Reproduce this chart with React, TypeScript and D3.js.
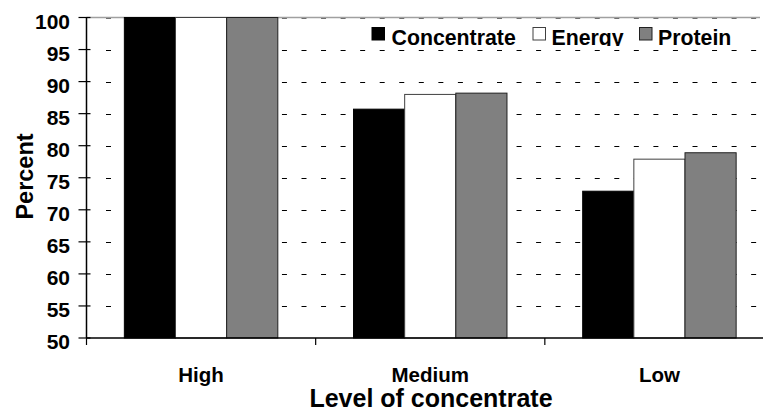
import React from "react";
import * as d3 from "d3";

const categories = ["High", "Medium", "Low"];
const seriesNames = ["Concentrate", "Energy", "Protein"];
const concentrate = [100, 85.7, 72.9];
const energy = [100, 88.0, 77.9];
const protein = [100, 88.2, 78.9];
const yTicks = [50, 55, 60, 65, 70, 75, 80, 85, 90, 95, 100];
const seriesValues = [concentrate, energy, protein];
const fills = ["#000000", "#ffffff", "#808080"];
const strokes = ["#000000", "#404040", "#202020"];

const W = 763;
const H = 412;
const FONT = "'Liberation Sans', Arial, sans-serif";

export default function App() {
  const left = 86.5;
  const right = 774;
  const top = 17.5;
  const bottom = 338;
  const x = d3.scaleBand<string>().domain(categories).range([left, right]).paddingInner(0).paddingOuter(0);
  const xi = d3.scaleBand<string>().domain(seriesNames).range([0, x.bandwidth()]).paddingInner(0).paddingOuter(0.74);
  const y = d3.scaleLinear().domain([50, 100]).range([bottom, top]);
  const gridEnd = 760;
  const period = 19.55;

  return (
    <svg width={W} height={H} style={{ position: "absolute", left: 0, top: 0, background: "#fff" }}>
      <defs>
        <clipPath id="legclip">
          <rect x={360} y={18} width={400} height={28} />
        </clipPath>
      </defs>
      <rect x={0} y={0} width={W} height={H} fill="#fff" />
      {/* top line */}
      <line x1={left} x2={gridEnd} y1={y(100)} y2={y(100)} stroke="#a0a0a0" strokeWidth={1.5} />
      {/* gridlines */}
      {yTicks.filter((t) => t > 50).map((t) => (
        <line
          key={"g" + t}
          x1={left + 19.5}
          x2={gridEnd}
          y1={Math.round(y(t)) + 0.5}
          y2={Math.round(y(t)) + 0.5}
          stroke={t === 100 ? "#707070" : "#000"}
          strokeWidth={1}
          strokeDasharray={`5 ${period - 5}`}
        />
      ))}
      {/* bars */}
      {categories.map((c, ci) =>
        seriesNames.map((s, si) => {
          const v = seriesValues[si][ci];
          const bx = (x(c) as number) + (xi(s) as number);
          return (
            <rect
              key={c + s}
              x={bx}
              y={y(v)}
              width={xi.bandwidth()}
              height={bottom - y(v)}
              fill={fills[si]}
              stroke={strokes[si]}
              strokeWidth={1}
            />
          );
        })
      )}
      {/* y axis */}
      <line x1={left} x2={left} y1={top} y2={bottom} stroke="#000" strokeWidth={1.5} />
      {yTicks.map((t) => (
        <g key={"t" + t}>
          <line x1={left - 8} x2={left + 4} y1={y(t)} y2={y(t)} stroke="#000" strokeWidth={1.2} />
          <text x={70} y={y(t) + 11} textAnchor="end" fontFamily={FONT} fontWeight="bold" fontSize={21} fill="#000">
            {t}
          </text>
        </g>
      ))}
      {/* x axis */}
      <line x1={left} x2={W} y1={bottom} y2={bottom} stroke="#000" strokeWidth={1.5} />
      {categories.map((c) => (
        <line key={"xt" + c} x1={x(c) as number} x2={x(c) as number} y1={bottom} y2={bottom + 7} stroke="#000" strokeWidth={1.2} />
      ))}
      {categories.map((c) => (
        <text
          key={"xl" + c}
          x={(x(c) as number) + x.bandwidth() / 2}
          y={382}
          textAnchor="middle"
          fontFamily={FONT}
          fontWeight="bold"
          fontSize={20.5}
          fill="#000"
        >
          {c}
        </text>
      ))}
      <text x={431} y={407} textAnchor="middle" fontFamily={FONT} fontWeight="bold" fontSize={25} fill="#000">
        Level of concentrate
      </text>
      <text
        transform={`translate(33,176.5) rotate(-90)`}
        textAnchor="middle"
        fontFamily={FONT}
        fontWeight="bold"
        fontSize={23.5}
        fill="#000"
      >
        Percent
      </text>
      {/* legend */}
      <g clipPath="url(#legclip)">
        {[
          { sx: 372, tx: 391.5 },
          { sx: 533, tx: 551.5 },
          { sx: 639.5, tx: 658 },
        ].map((p, i) => (
          <g key={"leg" + i}>
            <rect x={p.sx} y={27.5} width={12.5} height={12.5} fill={fills[i]} stroke={strokes[i]} strokeWidth={1} />
            <text x={p.tx} y={45} fontFamily={FONT} fontWeight="bold" fontSize={21.3} fill="#000">
              {seriesNames[i]}
            </text>
          </g>
        ))}
      </g>
    </svg>
  );
}
